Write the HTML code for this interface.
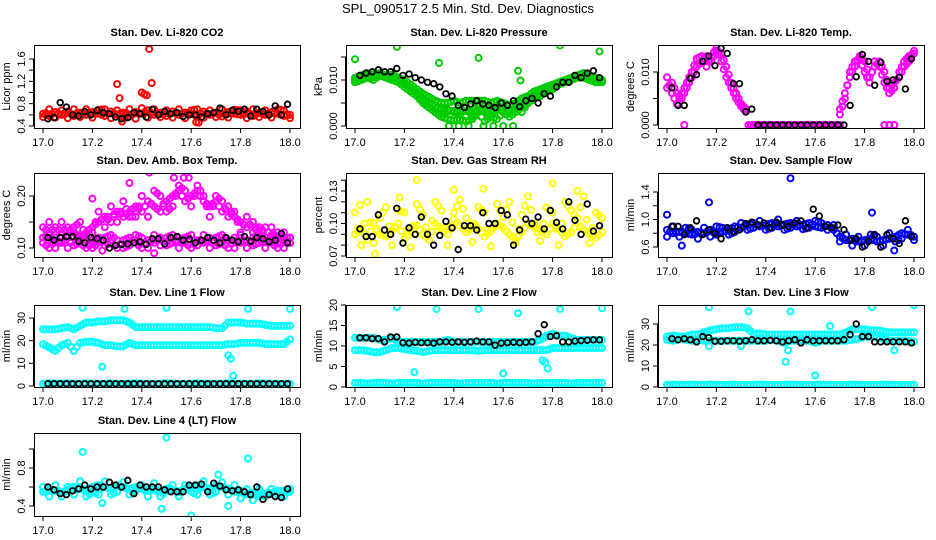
<!DOCTYPE html>
<html><head><meta charset="utf-8"><style>
html,body{margin:0;padding:0;background:#fff;width:936px;height:540px;overflow:hidden}
svg{display:block;font-family:"Liberation Sans",Arial,sans-serif}
</style></head><body>
<svg id="chart" width="936" height="540" viewBox="0 0 936 540" xmlns="http://www.w3.org/2000/svg">
<rect x="0" y="0" width="936" height="540" fill="#fff"/>
<text x="468" y="13" text-anchor="middle" font-size="13">SPL_090517  2.5 Min. Std. Dev. Diagnostics</text>
</svg>
<script>
// ---------------- data ----------------
const xTicks = [17.0,17.2,17.4,17.6,17.8,18.0];
const xTickLabels = ["17.0","17.2","17.4","17.6","17.8","18.0"];
const panelTitles = ["Stan. Dev. Li-820 CO2","Stan. Dev. Li-820 Pressure","Stan. Dev. Li-820 Temp.","Stan. Dev. Amb. Box Temp.","Stan. Dev. Gas Stream RH","Stan. Dev. Sample Flow","Stan. Dev. Line 1 Flow","Stan. Dev. Line 2 Flow","Stan. Dev. Line 3 Flow","Stan. Dev. Line 4 (LT) Flow"];
const yTitles = ["Licor ppm","kPa","degrees C","degrees C","percent","ml/min","ml/min","ml/min","ml/min","ml/min"];
const yTicks = [[0.4,0.6,0.8,1.0,1.2,1.4,1.6],[0,0.005,0.01,0.015],[0,0.005,0.01],[0.10,0.15,0.20],[0.07,0.08,0.09,0.10,0.11,0.12,0.13,0.14],[0.6,0.8,1.0,1.2,1.4],[0,10,20,30],[0,5,10,15,20],[0,10,20,30],[0.4,0.6,0.8,1.0]];
const yTickLabels = [["0.4","","0.8","","1.2","","1.6"],["0.000","","0.010",""],["0.000","","0.010"],["0.10","","0.20"],["0.07","","","0.10","","","0.13",""],["0.6","","1.0","","1.4"],["0","10","20","30"],["0","5","10","15","20"],["0","10","20","30"],["0.4","","0.8",""]];
const seriesColors = ["#ff0000","#00cc00","#ff00ff","#ff00ff","#ffff00","#0000ff","#00ffff","#00ffff","#00ffff","#00ffff"];

// CO2
const co2A=[0.62,0.58,0.65,0.6,0.66,0.58,0.64,0.6,0.65,0.62,0.58,0.66,0.6,0.64,0.57,0.65,0.62,0.68,0.6,0.64,0.58,0.66,0.6,0.64,0.62,0.58,0.66,0.6,0.64,0.57,0.65,0.62,0.6,0.66,0.58,0.64,0.6,0.65,0.62,0.58,0.6];
const co2B=[0.56,0.7,0.55,0.68,0.54,0.7,0.56,0.7,0.55,0.69,0.7,0.54,0.68,0.56,0.7,0.53,0.72,0.55,0.7,0.56,0.68,0.55,0.7,0.54,0.68,0.7,0.55,0.68,0.56,0.7,0.55,0.69,0.68,0.54,0.7,0.56,0.68,0.55,0.7,0.68,0.54];
const co2OutT=[17.30,17.31,17.43,17.44,17.42,17.41,17.40,17.62,17.63,17.32];
const co2OutY=[1.15,0.90,1.78,1.17,0.95,0.97,1.00,0.47,0.46,0.48];
const co2Black=[0.53,0.55,0.82,0.74,0.6,0.58,0.66,0.6,0.68,0.64,0.62,0.56,0.53,0.55,0.64,0.62,0.56,0.7,0.6,0.66,0.62,0.64,0.57,0.6,0.6,0.56,0.62,0.64,0.72,0.6,0.68,0.66,0.7,0.58,0.7,0.66,0.6,0.76,0.6,0.79];
// Pressure
const prA=[0.0105,0.011,0.0115,0.0112,0.0115,0.011,0.0112,0.0105,0.010,0.009,0.008,0.007,0.0063,0.0055,0.005,0.005,0.0055,0.005,0.0055,0.0055,0.0055,0.0055,0.005,0.0055,0.005,0.0045,0.005,0.006,0.0065,0.0075,0.008,0.0085,0.009,0.0095,0.010,0.0105,0.011,0.0115,0.011,0.0105,0.010];
const prB=[0.0095,0.010,0.0105,0.010,0.011,0.0105,0.010,0.0095,0.0085,0.0075,0.0065,0.005,0.004,0.003,0.002,0.0015,0.0012,0.0015,0.001,0.0015,0.003,0.001,0.002,0.0015,0.003,0.002,0.003,0.004,0.005,0.006,0.007,0.0075,0.008,0.009,0.0095,0.010,0.0105,0.0105,0.010,0.0095,0.0095];
const prD=[0.010,0.0105,0.011,0.0106,0.0112,0.0108,0.0106,0.010,0.0093,0.0083,0.0073,0.006,0.005,0.0043,0.0035,0.0032,0.0033,0.0032,0.0032,0.0035,0.0043,0.0033,0.0035,0.0035,0.004,0.0033,0.004,0.005,0.0058,0.0068,0.0075,0.008,0.0085,0.0092,0.0098,0.0103,0.0108,0.011,0.0105,0.010,0.0098];
const prC=[0.007,0.0055,0.004,0.003,0.002,0.0035,0.003,0.0025,0.004,0.002,0.0035,0.003,0.0025,0.004,0.0035,0.003,0.0045,0.003,0.005,0.006,0.0065];
const prOutT=[17.0,17.17,17.34,17.5,17.66,17.67,17.83,17.99,17.38,17.42,17.46,17.52,17.56,17.6,17.64];
const prOutY=[0.0145,0.0172,0.0137,0.0148,0.0120,0.0099,0.0175,0.0162,0.0,0.0,0.0,0.0,0.0,0.0,0.0];
const prBlack=[0.011,0.0115,0.0118,0.0122,0.0118,0.0118,0.0125,0.011,0.0113,0.0105,0.010,0.0095,0.0092,0.0085,0.007,0.0065,0.0045,0.004,0.0048,0.0055,0.0048,0.0045,0.004,0.005,0.0045,0.0055,0.0042,0.0055,0.006,0.005,0.007,0.0065,0.0085,0.0095,0.0095,0.011,0.0105,0.0115,0.012,0.0105];
// Temp
const tpA=[0.007,0.008,0.006,0.005,0.007,0.009,0.011,0.012,0.013,0.012,0.014,0.0135,0.011,0.008,0.006,0.004,0.003];
const tpB=[0.009,0.006,0.004,0.006,0.008,0.010,0.0125,0.013,0.011,0.013,0.0145,0.012,0.009,0.007,0.005,0.0035,0.0025];
const tpZero=[0,0,0,0,0,0,0,0,0,0,0,0,0,0,0,0,0,0,0,0];
const tpC=[0.003,0.006,0.009,0.011,0.013,0.012,0.009,0.011,0.012,0.010,0.007,0.008,0.009,0.011,0.012,0.014];
const tpD=[0.002,0.005,0.010,0.012,0.0125,0.010,0.008,0.012,0.011,0.008,0.006,0.007,0.010,0.012,0.013,0.0135];
const tpOutT=[17.07,17.88,17.9,17.92];
const tpOutY=[0,0,0,0];
const tpBlack=[0.007,0.0037,0.0037,0.0088,0.0095,0.012,0.013,0.0112,0.0145,0.0135,0.0078,0.0078,0.0025,0.003,0,0,0,0,0,0,0,0,0,0,0,0,0,0,0,0.0037,0.0091,0.0133,0.012,0.0075,0.0118,0.0082,0.0085,0.009,0.0068,0.0125];
// Amb box temp
const abA=[0.14,0.13,0.14,0.13,0.14,0.13,0.12,0.13,0.14,0.15,0.16,0.15,0.17,0.16,0.17,0.18,0.17,0.19,0.18,0.17,0.19,0.20,0.21,0.19,0.20,0.21,0.19,0.18,0.19,0.17,0.18,0.16,0.15,0.14,0.15,0.13,0.14,0.12,0.13,0.12,0.12];
const abB=[0.12,0.15,0.12,0.15,0.12,0.14,0.15,0.12,0.13,0.17,0.14,0.18,0.15,0.19,0.16,0.16,0.20,0.16,0.21,0.20,0.17,0.18,0.22,0.21,0.18,0.22,0.20,0.16,0.20,0.19,0.16,0.17,0.13,0.16,0.13,0.14,0.12,0.14,0.11,0.13,0.11];
const abC=[0.11,0.10,0.115,0.11,0.12,0.105,0.11,0.10,0.11,0.12,0.105,0.11,0.10,0.115,0.12,0.11,0.10,0.115,0.11,0.12,0.105,0.11,0.12,0.11,0.10,0.115,0.11,0.12,0.105,0.11,0.10,0.12,0.11,0.115,0.105,0.11,0.12,0.11,0.10,0.115,0.11];
const abD=[0.12,0.125,0.10,0.12,0.10,0.12,0.125,0.115,0.10,0.11,0.12,0.125,0.115,0.10,0.105,0.125,0.12,0.10,0.125,0.105,0.12,0.125,0.10,0.12,0.125,0.105,0.125,0.10,0.12,0.125,0.115,0.10,0.125,0.10,0.12,0.125,0.10,0.125,0.12,0.10,0.12];
const abOutT=[17.43,17.45,17.2,17.24,17.53,17.57,17.59,17.35];
const abOutY=[0.245,0.090,0.195,0.095,0.235,0.235,0.235,0.225];
const abBlack=[0.12,0.115,0.12,0.122,0.122,0.113,0.11,0.12,0.118,0.115,0.1,0.105,0.107,0.108,0.11,0.112,0.107,0.118,0.118,0.108,0.12,0.122,0.115,0.117,0.11,0.115,0.12,0.115,0.11,0.12,0.115,0.112,0.122,0.113,0.12,0.118,0.112,0.115,0.128,0.11];
// RH
const rhA=[0.09,0.095,0.085,0.10,0.09,0.088,0.094,0.10,0.086,0.092,0.098,0.09,0.085,0.1,0.095,0.09,0.104,0.098,0.092,0.1,0.095,0.088,0.093,0.1,0.096,0.09,0.085,0.092,0.1,0.097,0.094,0.09,0.1,0.095,0.088,0.092,0.1,0.094,0.09,0.087,0.092];
const rhB=[0.11,0.08,0.12,0.082,0.105,0.115,0.08,0.112,0.11,0.078,0.118,0.108,0.085,0.12,0.112,0.08,0.11,0.122,0.105,0.083,0.115,0.11,0.079,0.118,0.106,0.12,0.082,0.108,0.125,0.1,0.084,0.115,0.11,0.08,0.12,0.112,0.105,0.125,0.082,0.11,0.105];
const rhOutT=[17.02,17.08,17.25,17.4,17.8,17.9,17.18,17.52];
const rhOutY=[0.117,0.072,0.140,0.131,0.137,0.130,0.124,0.132];
const rhBlack=[0.095,0.088,0.088,0.108,0.094,0.09,0.114,0.082,0.096,0.09,0.106,0.09,0.08,0.089,0.102,0.096,0.076,0.098,0.098,0.094,0.11,0.1,0.1,0.112,0.108,0.08,0.094,0.104,0.1,0.106,0.095,0.112,0.101,0.095,0.12,0.103,0.09,0.118,0.093,0.098];
// Sample flow
const sfA=[0.85,0.8,0.82,0.8,0.78,0.82,0.8,0.85,0.78,0.82,0.85,0.9,0.88,0.92,0.95,0.9,0.92,0.95,0.9,0.93,0.95,0.9,0.92,0.95,0.9,0.88,0.92,0.85,0.75,0.7,0.72,0.68,0.7,0.72,0.68,0.7,0.72,0.75,0.8,0.78,0.75];
const sfB=[0.75,0.9,0.75,0.88,0.85,0.72,0.88,0.75,0.9,0.88,0.78,0.82,0.95,0.85,0.88,0.98,0.85,0.88,1.0,0.85,0.88,0.98,0.86,0.88,0.98,0.95,0.85,0.92,0.68,0.78,0.62,0.75,0.62,0.78,0.75,0.62,0.8,0.68,0.72,0.85,0.7];
const sfOutT=[17.5,17.17,17.83,17.06,17.0,17.92];
const sfOutY=[1.60,1.25,1.10,0.62,1.07,0.55];
const sfBlack=[0.9,0.9,0.78,0.88,0.98,0.78,0.85,0.8,0.72,0.88,0.82,0.85,0.94,0.96,0.92,0.95,0.88,0.96,0.92,0.9,0.95,0.98,0.88,1.15,1.05,0.9,0.88,0.92,0.85,0.7,0.72,0.6,0.68,0.78,0.6,0.78,0.72,0.65,0.98,0.75];
// Line 1
const l1Top=[25,25,25,25.5,26,25,26.5,28,28,28.5,28.5,29,29,29,28,26,26,26,26,26,26,26,26,26,26,26,26,26,25.5,25.5,28,28,28,27.5,27.5,27.5,27,26.5,26.5,26.5,26.5];
const l1Mid=[18.5,17,15.5,18,19,15.5,19,19.5,19.5,19,18,18,17.5,17.5,19,18,18,18,18,18,18,18,18,18,18,18,18,18,18,18,18.5,18.5,19,19,19,19,18.5,18.5,18.5,18.5,20.5];
const l1Bot=[1,1.2,1,1,1.2,1,1,1.2,1,1,1,1.2,1,1,1,1.2,1,1,1,1,1.2,1,1,1,1,1.2,1,1,1,1,1.2,1,1,1,1,1.2,1,1,1,1,1];
const l1OutT=[17.16,17.33,17.5,17.83,18.0,17.24,17.75,17.76,17.77];
const l1OutY=[34.5,34,34.5,34,34,8.5,13.5,12,4.5];
const l1Black=[1,1,1,1,1,1,1,1,1,1,1,1,1,1,1,1,1,1,1,1,1,1,1,1,1,1,1,1,1,1,1,1,1,1,1,1,1,1,1,1];
// Line 2
const l2Top=[12,12,12,12,11.5,11.5,12,11,11,11,11,11,11,11,11,11.5,11,11,11,11,11,11,11,11,11,11,11,11,11,11,11.5,12.5,13,12.5,12.5,12,11.5,11.5,11.5,11.5,11.5];
const l2Mid=[9,9,8.8,8.5,8.5,9,9.5,9.5,9.2,9,8.8,8.5,8.8,9,9,9,9,9,9,9,8.8,9,9,9,9,9,9,9,9,9,9,9,9.5,9.5,9.5,9.5,9.5,9.5,9.5,9.5,9.5];
const l2Bot=[1,1,0.8,1,1,1,0.8,1,1,1,1,0.8,1,1,1,1,1,0.8,1,1,1,1,1,0.8,1,1,1,1,1,0.8,1,1,1,1,1,0.8,1,1,1,1,1];
const l2OutT=[17.17,17.33,17.5,17.66,17.83,18.0,17.24,17.6,17.76,17.77,17.78];
const l2OutY=[19.5,19,19,18,19,19.2,3.6,3.3,6.5,6,4.5];
const l2Black=[12,12,11.8,11.8,11,12.2,12.2,10.8,10.7,10.9,10.8,10.8,10.7,11,11,10.9,11,10.9,11,11.2,11,11,10.2,10.7,10.8,10.9,10.8,10.9,11,13,15.2,12.3,12.5,11,11,11.2,11.3,11.4,11.5,11.5];
// Line 3
const l3Top=[24,24.5,24,24,25,25,26,27,27.5,28,28,28.5,28.5,28,25.5,25.5,25,25,25,25,25,25,25,25,25,25,25,25,25,26,27.5,27.5,27.5,27,27,26.5,26,26,26,26,26];
const l3Low=[22.5,22,23,22.5,22,22.5,22,22,22,22,22,22,22,22,22,22,22,22.5,22,21,22,22,22,22,21,22,22,22,22,22,22.5,23,24,24,23.5,23,22,22,22,22,21.5];
const l3Bot=[1,1.2,1,1,1.2,1,1,1.2,1,1,1,1.2,1,1,1,1.2,1,1,1,1,1.2,1,1,1,1,1.2,1,1,1,1,1.2,1,1,1,1,1.2,1,1,1,1,1];
const l3OutT=[17.17,17.33,17.5,17.66,17.83,18.0,17.48,17.49,17.6,17.92,17.17,17.3];
const l3OutY=[38,36,36,29,38,39,12,17.5,5.5,17.5,19.5,19.5];
const l3Black=[23,22.5,23,22.5,21.5,24,23.5,21.8,21.8,22,22,21.8,22,22.5,22,22,22.2,22,21.5,22,22.5,21,22.5,22,22,22,22,22,22.5,25,30,24,24,21.5,21.5,21.5,21.5,21.5,21.5,21];
// Line 4
const l4A=[0.55,0.58,0.56,0.54,0.57,0.6,0.58,0.56,0.6,0.62,0.6,0.58,0.62,0.6,0.58,0.6,0.58,0.56,0.57,0.55,0.58,0.56,0.55,0.58,0.6,0.62,0.6,0.58,0.62,0.6,0.58,0.55,0.56,0.52,0.54,0.5,0.52,0.54,0.56,0.56,0.55];
const l4B=[0.6,0.5,0.62,0.5,0.6,0.52,0.66,0.5,0.55,0.52,0.66,0.52,0.55,0.65,0.52,0.56,0.62,0.5,0.64,0.5,0.56,0.62,0.5,0.62,0.55,0.52,0.66,0.52,0.55,0.65,0.52,0.62,0.48,0.58,0.46,0.58,0.5,0.58,0.52,0.5,0.58];
const l4OutT=[17.5,17.16,17.83,17.6,17.24,17.48,17.75,17.71];
const l4OutY=[1.12,0.97,0.90,0.30,0.43,0.37,0.40,0.73];
const l4Black=[0.6,0.57,0.53,0.52,0.56,0.58,0.62,0.58,0.6,0.6,0.65,0.62,0.6,0.67,0.53,0.62,0.6,0.6,0.6,0.57,0.55,0.55,0.55,0.62,0.62,0.63,0.55,0.64,0.61,0.57,0.56,0.57,0.55,0.52,0.6,0.47,0.52,0.5,0.49,0.58];

// ---------------- layout ----------------
const NS="http://www.w3.org/2000/svg";
const svg=document.getElementById('chart');
const colL=[34,346,658], rowT=[45,173,305,433], rowB=[128,257,387,516];
const yCal=[[0.4,126,1.6,59],[0,126,0.01,80],[0,125,0.01,72],[0.1,248,0.2,196],[0.07,256,0.13,191],[0.6,247,1.4,192],[0,386,30,318],[0,387,20,305],[0,387,30,324],[0.4,506,0.8,468]];
function mk(tag,attrs,parent){const e=document.createElementNS(NS,tag);for(const k in attrs)e.setAttribute(k,attrs[k]);(parent||svg).appendChild(e);return e;}
const panels=[];
for(let p=0;p<10;p++){
  const c=p%3,r=Math.floor(p/3);
  const L=colL[c],T=rowT[r],B=rowB[r],W=266;
  const cal=yCal[p];
  const xs=t=>L+9+(t-17)*247;
  const ys=v=>cal[1]+(v-cal[0])*(cal[3]-cal[1])/(cal[2]-cal[0]);
  const g=mk('g',{});
  
  
  const ttl=mk('text',{x:L+W/2,y:T-9,'text-anchor':'middle','font-size':'11','font-weight':'bold'},g);
  ttl.textContent=panelTitles[p];
  
  
  const clip=mk('clipPath',{id:'clip'+p},g);mk('rect',{x:L,y:T,width:W,height:B-T},clip);
  const marks=mk('g',{'clip-path':'url(#clip'+p+')'},g);
  
  
  const xa=mk('g',{},g);
  
  
  mk('line',{x1:xs(17),x2:xs(18),y1:B+0.5,y2:B+0.5,stroke:'#000'},xa);
  xTicks.forEach((t,i)=>{
    mk('line',{x1:xs(t),x2:xs(t),y1:B,y2:B+5,stroke:'#000'},xa);
    const tx=mk('text',{x:xs(t),y:B+18,'text-anchor':'middle','font-size':'11'},xa);
    tx.textContent=xTickLabels[i];
    
    
  });
  const ya=mk('g',{},g);
  
  
  const tk=yTicks[p];
  mk('line',{x1:L-0.5,x2:L-0.5,y1:ys(tk[0]),y2:ys(tk[tk.length-1]),stroke:'#000'},ya);
  tk.forEach((v,i)=>{
    const y=ys(v);
    mk('line',{x1:L-5,x2:L,y1:y,y2:y,stroke:'#000'},ya);
    if(yTickLabels[p][i]){
      const tx=mk('text',{x:L-9,y:y,'text-anchor':'middle','font-size':'11',transform:'rotate(-90 '+(L-9)+' '+y+')'},ya);
      tx.textContent=yTickLabels[p][i];
      
      
    }
  });
  const yt=mk('text',{x:L-24,y:(T+B)/2,'text-anchor':'middle','font-size':'11',transform:'rotate(-90 '+(L-24)+' '+((T+B)/2)+')'},g);
  yt.textContent=yTitles[p];
  
  
  mk('rect',{x:L+0.5,y:T+0.5,width:W,height:B-T,fill:'none',stroke:'#000'},g);
  panels.push({marks,xs,ys});
}
function pt(p,t,v,col){
  const P=panels[p];
  const black=col==='#000';
  const c=mk('circle',{cx:P.xs(t),cy:P.ys(v),r:black?2.8:3,fill:'none',stroke:col,'stroke-width':black?1.8:2},P.marks);
  
  
}
// dense colored band: each value plus a midpoint between neighbours
function series(p,t0,t1,vals,col){
  for(let i=0;i<vals.length;i++){
    const t=t0+(t1-t0)*i/(vals.length-1);
    pt(p,t,vals[i],col);
    if(i<vals.length-1){
      const t2=t0+(t1-t0)*(i+0.5)/(vals.length-1);
      pt(p,t2,(vals[i]+vals[i+1])/2,col);
    }
  }
}
// sparse black points: one mark per value
function blacks(p,t0,t1,vals){
  for(let i=0;i<vals.length;i++){
    pt(p,t0+(t1-t0)*i/(vals.length-1),vals[i],'#000');
  }
}
function scatter(p,ts,vs,col){for(let i=0;i<ts.length;i++)pt(p,ts[i],vs[i],col);}
// 1 CO2
series(0,17,18,co2A,seriesColors[0]);series(0,17,18,co2B,seriesColors[0]);scatter(0,co2OutT,co2OutY,seriesColors[0]);
blacks(0,17.02,17.99,co2Black);
// 2 Pressure
series(1,17,18,prA,seriesColors[1]);series(1,17,18,prD,seriesColors[1]);series(1,17,18,prB,seriesColors[1]);series(1,17.25,17.75,prC,seriesColors[1]);scatter(1,prOutT,prOutY,seriesColors[1]);
blacks(1,17.02,17.99,prBlack);
// 3 Temp
series(2,17,17.32,tpA,seriesColors[2]);series(2,17,17.32,tpB,seriesColors[2]);series(2,17.33,17.7,tpZero,seriesColors[2]);series(2,17.7,18,tpC,seriesColors[2]);series(2,17.7,18,tpD,seriesColors[2]);scatter(2,tpOutT,tpOutY,seriesColors[2]);
blacks(2,17.02,17.99,tpBlack);
// 4 Amb
series(3,17,18,abA,seriesColors[3]);series(3,17,18,abB,seriesColors[3]);series(3,17,18,abC,seriesColors[3]);series(3,17,18,abD,seriesColors[3]);scatter(3,abOutT,abOutY,seriesColors[3]);
blacks(3,17.02,17.99,abBlack);
// 5 RH
series(4,17,18,rhA,seriesColors[4]);series(4,17,18,rhB,seriesColors[4]);scatter(4,rhOutT,rhOutY,seriesColors[4]);
blacks(4,17.02,17.99,rhBlack);
// 6 Sample flow
series(5,17,18,sfA,seriesColors[5]);series(5,17,18,sfB,seriesColors[5]);scatter(5,sfOutT,sfOutY,seriesColors[5]);
blacks(5,17.02,17.99,sfBlack);
// 7 Line1
series(6,17,18,l1Top,seriesColors[6]);series(6,17,18,l1Mid,seriesColors[6]);series(6,17,18,l1Bot,seriesColors[6]);scatter(6,l1OutT,l1OutY,seriesColors[6]);
blacks(6,17.02,17.99,l1Black);
// 8 Line2
series(7,17,18,l2Top,seriesColors[7]);series(7,17,18,l2Mid,seriesColors[7]);series(7,17,18,l2Bot,seriesColors[7]);scatter(7,l2OutT,l2OutY,seriesColors[7]);
blacks(7,17.02,17.99,l2Black);
// 9 Line3
series(8,17,18,l3Top,seriesColors[8]);series(8,17,18,l3Low,seriesColors[8]);series(8,17,18,l3Bot,seriesColors[8]);scatter(8,l3OutT,l3OutY,seriesColors[8]);
blacks(8,17.02,17.99,l3Black);
// 10 Line4
series(9,17,18,l4A,seriesColors[9]);series(9,17,18,l4B,seriesColors[9]);scatter(9,l4OutT,l4OutY,seriesColors[9]);
blacks(9,17.02,17.99,l4Black);
</script>
</body></html>
